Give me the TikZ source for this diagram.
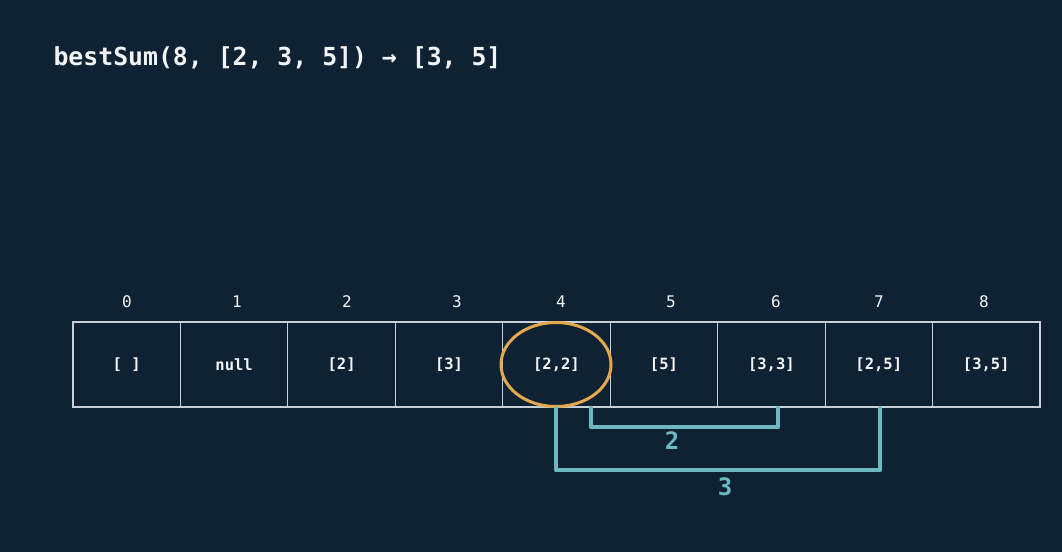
\documentclass[tikz,border=0pt]{standalone}
\usepackage{fontspec}
\usetikzlibrary{shapes.geometric}
\setmonofont{DejaVu Sans Mono}
\definecolor{bg}{HTML}{0E2233}
\definecolor{ink}{HTML}{F2F4F5}
\definecolor{grid}{HTML}{C9D1D8}
\definecolor{hilite}{HTML}{E6A84C}
\definecolor{span}{HTML}{6DB9C1}
\begin{document}
\begin{tikzpicture}[x=1pt,y=-1pt,
  cell/.style={minimum width=107.44pt,minimum height=85pt,inner sep=0pt,
    draw=grid,line width=0.8pt,text=ink,font=\ttfamily\bfseries\fontsize{15.5}{18}\selectfont},
  idx/.style={text=ink!85,font=\ttfamily\fontsize{16}{18}\selectfont},
  spanline/.style={draw=span,line width=4.5pt,line cap=round,line join=round},
  spanlabel/.style={text=span,font=\ttfamily\bfseries\fontsize{24}{26}\selectfont}]
\fill[bg] (0,0) rectangle (1062,552);
\useasboundingbox (0,0) rectangle (1062,552);

% heading
\node[anchor=west,text=ink,font=\ttfamily\bfseries\fontsize{24.8}{28}\selectfont]
  (title) at (50,58) {bestSum(8, [2, 3, 5]) → [3, 5]};

% table cells
\foreach \i/\t in {0/{[ ]},1/null,2/{[2]},3/{[3]},4/{[2,2]},5/{[5]},6/{[3,3]},7/{[2,5]},8/{[3,5]}}
  \node[cell] (c\i) at ({73+107.44*(\i+0.5)},364.5) {\t};
\draw[grid,line width=2pt] (c0.north west) rectangle (c8.south east);

% indices
\foreach \i/\x in {0/127,1/237,2/347,3/457,4/561,5/671,6/776,7/879,8/984}
  \node[idx] (n\i) at (\x,302) {\i};

% highlighted entry
\node[draw=hilite,line width=3pt,ellipse,minimum width=110pt,minimum height=84pt,inner sep=0pt]
  (ring) at (556,364.5) {};

% jumps of 2 and 3
\coordinate (a2) at (591,408);
\coordinate (b2) at (778,408);
\coordinate (a3) at (556,408);
\coordinate (b3) at (880,408);
\draw[spanline] (a2) -- ++(0,19) -| (b2);
\draw[spanline] (a3) -- ++(0,62) -| (b3);
\node[spanlabel] (l2) at (672,441) {2};
\node[spanlabel] (l3) at (725,487) {3};
\end{tikzpicture}
\end{document}
